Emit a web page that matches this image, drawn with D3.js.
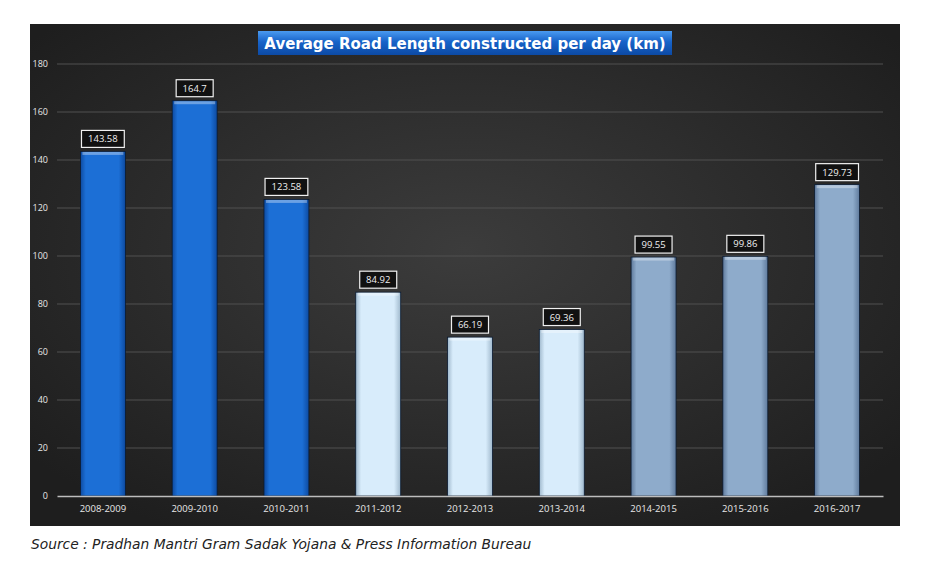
<!DOCTYPE html>
<html>
<head>
<meta charset="utf-8">
<script src="https://cdn.jsdelivr.net/npm/d3@7"></script>
<style>
  body { margin: 0; background: #fff; }
</style>
</head>
<body>
<div id="chart-area"></div>
<script>
var years = ["2008-2009", "2009-2010", "2010-2011", "2011-2012", "2012-2013",
  "2013-2014", "2014-2015", "2015-2016", "2016-2017"];
var roadLength = [143.58, 164.7, 123.58, 84.92, 66.19, 69.36, 99.55, 99.86, 129.73];
var valueLabels = ["143.58", "164.7", "123.58", "84.92", "66.19", "69.36", "99.55", "99.86", "129.73"];
var yTicks = [0, 20, 40, 60, 80, 100, 120, 140, 160, 180];
// colour group per bar (three periods)
var barGroup = [0, 0, 0, 1, 1, 1, 2, 2, 2];
var groupColors = ["#1c6fd6", "#d8ecfb", "#8eabcb"];
var groupEdges = ["#0d4aa0", "#9fb8cc", "#5f7a9c"];

var outerWidth = 945;
var outerHeight = 579;

var svg = d3.select("#chart-area")
  .append("svg")
  .attr("width", outerWidth)
  .attr("height", outerHeight);

var defs = svg.append("defs");

// dark panel background
var bg = defs.append("radialGradient")
  .attr("id", "bg")
  .attr("cx", "50%").attr("cy", "45%").attr("r", "65%");
bg.append("stop").attr("offset", "0%").attr("stop-color", "#3c3c3c");
bg.append("stop").attr("offset", "100%").attr("stop-color", "#1e1e1e");

// bar shading
groupColors.forEach(function(c, i) {
  var lg = defs.append("linearGradient")
    .attr("id", "bar" + i)
    .attr("x1", "0%").attr("x2", "100%");
  lg.append("stop").attr("offset", "0%").attr("stop-color", groupEdges[i]);
  lg.append("stop").attr("offset", "12%").attr("stop-color", c);
  lg.append("stop").attr("offset", "85%").attr("stop-color", c);
  lg.append("stop").attr("offset", "100%").attr("stop-color", groupEdges[i]);
});

var titleGrad = defs.append("linearGradient")
  .attr("id", "titleGrad")
  .attr("x1", "0%").attr("x2", "0%").attr("y1", "0%").attr("y2", "100%");
titleGrad.append("stop").attr("offset", "0%").attr("stop-color", "#4a9af0");
titleGrad.append("stop").attr("offset", "45%").attr("stop-color", "#1763c9");
titleGrad.append("stop").attr("offset", "100%").attr("stop-color", "#0c4aa5");

svg.append("rect")
  .attr("x", 30)
  .attr("y", 24)
  .attr("width", 870)
  .attr("height", 502)
  .attr("fill", "url(#bg)");

// Title
svg.append("rect")
  .attr("x", 258)
  .attr("y", 31)
  .attr("width", 414)
  .attr("height", 24)
  .attr("fill", "url(#titleGrad)");

svg.append("text")
  .attr("x", 465)
  .attr("y", 49)
  .attr("text-anchor", "middle")
  .attr("font-family", "'DejaVu Sans', sans-serif")
  .attr("font-weight", "bold")
  .attr("font-size", "15px")
  .attr("fill", "#fff")
  .text("Average Road Length constructed per day (km)");

// Scales
var x = d3.scaleBand()
  .domain(years)
  .range([57, 883])
  .paddingInner(0.51)
  .paddingOuter(0.255);

var y = d3.scaleLinear()
  .domain([0, 180])
  .range([496, 64]);

// Gridlines
svg.append("g")
  .selectAll("line")
  .data(yTicks.slice(1))
  .enter()
  .append("line")
  .attr("x1", 57)
  .attr("x2", 883)
  .attr("y1", function(d) { return y(d); })
  .attr("y2", function(d) { return y(d); })
  .attr("stroke", "#505050")
  .attr("stroke-width", 1);

// Left axis (labels only)
var yAxis = d3.axisLeft(y)
  .tickValues(yTicks)
  .tickSize(0)
  .tickPadding(0);

var yg = svg.append("g")
  .attr("transform", "translate(48,0)")
  .call(yAxis);
yg.select(".domain").remove();
yg.selectAll("text")
  .attr("fill", "#e8e8e8")
  .attr("font-family", "'Open Sans', sans-serif")
  .attr("font-size", "9px");

// Bars
svg.append("g")
  .selectAll("rect")
  .data(roadLength)
  .enter()
  .append("rect")
  .attr("x", function(d, i) { return x(years[i]); })
  .attr("y", function(d) { return y(d); })
  .attr("width", x.bandwidth())
  .attr("height", function(d) { return y(0) - y(d); })
  .attr("fill", function(d, i) { return "url(#bar" + barGroup[i] + ")"; })
  .attr("stroke", "#0a1a30")
  .attr("stroke-width", 0.8);

// Bar top highlight
svg.append("g")
  .selectAll("rect")
  .data(roadLength)
  .enter()
  .append("rect")
  .attr("x", function(d, i) { return x(years[i]) + 2; })
  .attr("y", function(d) { return y(d) + 0.5; })
  .attr("width", x.bandwidth() - 4)
  .attr("height", 3)
  .attr("fill", "#ffffff")
  .attr("opacity", 0.35);

// Bottom axis
var xAxis = d3.axisBottom(x)
  .tickSize(0)
  .tickPadding(9);

var xg = svg.append("g")
  .attr("transform", "translate(0,496)")
  .call(xAxis);
xg.select(".domain")
  .attr("stroke", "#bdbdbd")
  .attr("stroke-width", 1.5);
xg.selectAll("text")
  .attr("fill", "#e8e8e8")
  .attr("font-family", "'Open Sans', sans-serif")
  .attr("font-size", "9.5px");

// Value labels
var labels = svg.append("g")
  .selectAll("g")
  .data(roadLength)
  .enter()
  .append("g")
  .attr("transform", function(d, i) {
    return "translate(" + (x(years[i]) + x.bandwidth() / 2) + "," + (y(d) - 12.5) + ")";
  });

labels.append("rect")
  .attr("x", function(d, i) { return -(valueLabels[i].length * 2.9 + 4); })
  .attr("y", -8.5)
  .attr("width", function(d, i) { return 2 * (valueLabels[i].length * 2.9 + 4); })
  .attr("height", 17)
  .attr("fill", "#111")
  .attr("stroke", "#f0f0f0")
  .attr("stroke-width", 1.2);

labels.append("text")
  .attr("text-anchor", "middle")
  .attr("y", 3.5)
  .attr("fill", "#f0f0f0")
  .attr("font-family", "'Open Sans', sans-serif")
  .attr("font-size", "9.5px")
  .text(function(d, i) { return valueLabels[i]; });

// Source
svg.append("text")
  .attr("x", 31)
  .attr("y", 549)
  .attr("font-family", "'DejaVu Sans', Verdana, sans-serif")
  .attr("font-style", "italic")
  .attr("font-size", "13.8px")
  .attr("fill", "#222")
  .text("Source : Pradhan Mantri Gram Sadak Yojana & Press Information Bureau");
</script>
</body>
</html>
